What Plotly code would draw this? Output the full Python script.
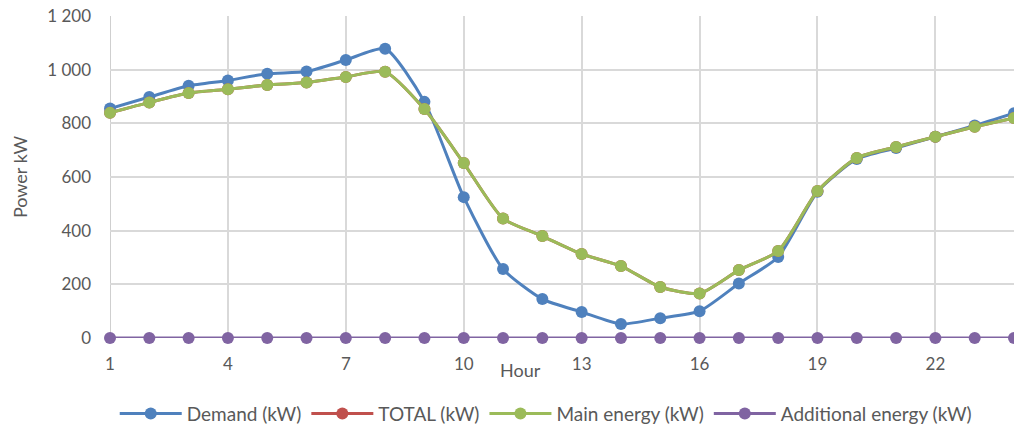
import plotly.graph_objects as go

hours = list(range(1, 25))
demand_kw = [855, 898, 940, 960, 985, 993, 1036, 1078, 880, 525, 257, 145,
             97, 52, 74, 100, 203, 302, 545, 667, 708, 750, 792, 838]
main_energy_kw = [839, 878, 913, 927, 943, 952, 973, 992, 853, 652, 445, 380,
                  313, 268, 190, 166, 253, 324, 548, 671, 712, 750, 787, 820]
total_kw = list(main_energy_kw)
additional_kw = [0] * 24

x_tick_vals = [1, 4, 7, 10, 13, 16, 19, 22]
y_tick_vals = [0, 200, 400, 600, 800, 1000, 1200]

series = [
    ("Demand (kW)", demand_kw, "#4F81BD"),
    ("TOTAL (kW)", total_kw, "#C0504D"),
    ("Main energy (kW)", main_energy_kw, "#9BBB59"),
    ("Additional energy (kW)", additional_kw, "#8064A2"),
]

fig = go.Figure()
for name, vals, color in series:
    fig.add_trace(go.Scatter(
        x=hours, y=vals, name=name, mode="lines+markers",
        line=dict(color=color, width=3, shape="spline", smoothing=0.6),
        marker=dict(color=color, size=12),
        cliponaxis=False,
    ))

font_family = "Lato, 'Open Sans', sans-serif"
fig.update_layout(
    width=1014, height=433,
    margin=dict(l=110, r=0, t=16, b=95),
    plot_bgcolor="white", paper_bgcolor="white",
    separators=", ",
    font=dict(family=font_family, size=17, color="#595959"),
    showlegend=True,
    legend=dict(orientation="h", x=0.482, xanchor="center", y=-0.235, yanchor="middle",
                font=dict(size=19, color="#595959"), itemwidth=62,
                tracegroupgap=0),
    xaxis=dict(range=[1, 24], tickvals=x_tick_vals, showgrid=True,
               gridcolor="#D9D9D9", gridwidth=1.5, zeroline=False,
               showline=False, ticks="", ticklabelstandoff=14,
               tickfont=dict(size=17)),
    yaxis=dict(range=[0, 1200], tickvals=y_tick_vals, tickformat=",d",
               showgrid=True, gridcolor="#D9D9D9", gridwidth=1.5,
               zeroline=False, showline=False, ticks="",
               ticklabelstandoff=18, tickfont=dict(size=17),
               title=dict(text="Power kW", font=dict(size=18), standoff=14)),
    annotations=[dict(text="Hour", x=(520 - 110) / 904, xref="paper",
                      y=-0.1, yref="paper", yanchor="middle", xanchor="center",
                      showarrow=False, font=dict(size=18, color="#595959"))],
)
fig.add_shape(type="line", xref="x", yref="paper", x0=1, x1=1, y0=0, y1=1,
              line=dict(color="#BFBFBF", width=1.5), layer="below")

fig.write_html("out.html")
